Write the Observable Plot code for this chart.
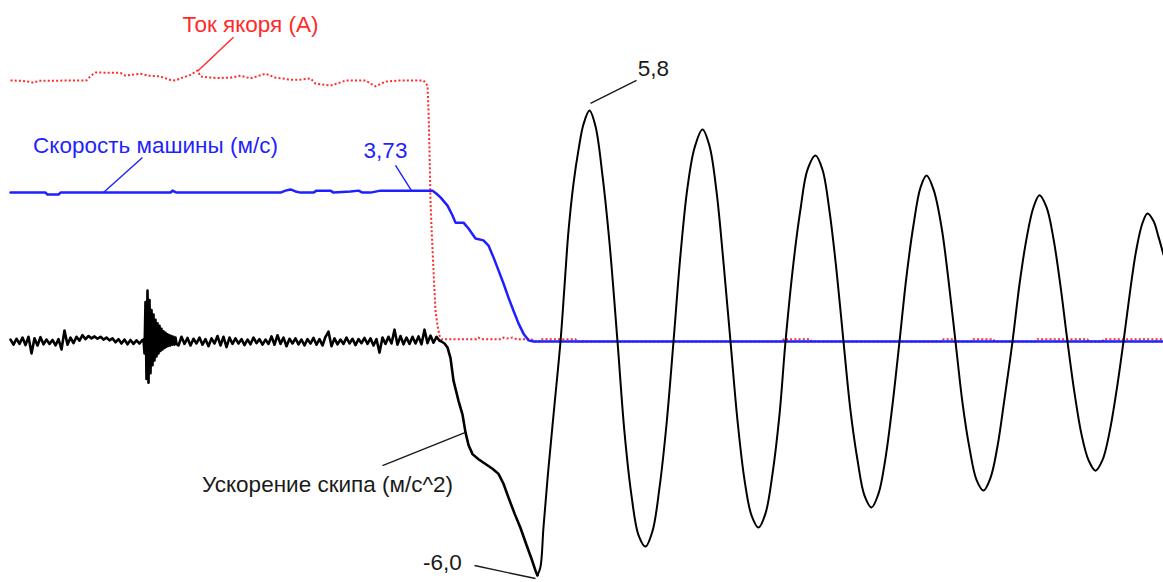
<!DOCTYPE html>
<html>
<head>
<meta charset="utf-8">
<script src="https://cdn.jsdelivr.net/npm/d3@7"></script>
<script src="https://cdn.jsdelivr.net/npm/@observablehq/plot@0.6"></script>
<style>
  html, body { margin: 0; padding: 0; background: #fff; }
  #chart svg { display: block; }
</style>
</head>
<body>
<div id="chart"></div>
<script>
// ---- Data (time in sample units, values in common oscillogram units) ----

// Armature current (A), trace
const currentTrace = [
  [10,6.61],[20,6.6],[30,6.57],[33,6.55],[38,6.6],[86,6.61],[90,6.72],[95,6.81],[120,6.8],
  [125,6.73],[130,6.75],[140,6.78],[148,6.73],[160,6.71],[170,6.62],[175,6.61],[182,6.68],
  [190,6.75],[197,6.86],[200,6.71],[215,6.67],[230,6.68],[240,6.73],[250,6.66],[265,6.78],
  [275,6.68],[290,6.63],[300,6.63],[310,6.66],[315,6.53],[330,6.48],[340,6.56],[345,6.61],
  [365,6.61],[370,6.53],[375,6.46],[385,6.58],[400,6.61],[423,6.61],[427,6.48],[428,5.85],
  [429,4.8],[430,3.57],[431,2.9],[433,1.8],[435,0.78],[437,0.4],[439,0.15],[441,0.06],
  [476,0.06],[478,0.1],[481,0.06],[501,0.06],[503,0.1],[507,0.08],[512,0.1],[516,0.06],
  [531,0.06],[533,0],[539,0],[540,0.06],[575,0.06],[576,0],[782,0],[783,0.06],[810,0.06],
  [811,0],[942,0],[943,0.06],[953,0.06],[954,0],[972,0],[973,0.06],[993,0.06],[994,0],
  [1036,0],[1037,0.06],[1087,0.06],[1088,0],[1102,0],[1103,0.06],[1163,0.06]
];

// Machine speed (m/s)
const speedTrace = [
  [10,3.77],[45,3.77],[47,3.72],[58,3.72],[60,3.77],[170,3.77],[172,3.82],[176,3.77],
  [280,3.77],[285,3.82],[290,3.85],[295,3.8],[300,3.77],[313,3.77],[316,3.82],[330,3.82],
  [333,3.77],[350,3.8],[358,3.82],[362,3.77],[370,3.77],[380,3.82],[432,3.82],[436,3.74],
  [440,3.65],[447,3.44],[452,3.19],[455,3.01],[463,3.01],[468,2.86],[475,2.61],[483,2.56],
  [488,2.43],[493,2.13],[498,1.8],[503,1.47],[508,1.11],[513,0.78],[518,0.46],[523,0.2],
  [528,0.03],[533,0],[1163,0]
];

// Skip acceleration (m/s^2): noise before braking, sampled every 3 units
const accelNoiseStartA = 10;
const accelNoiseA = [
  .05,-.08,.07,-.06,.1,-.09,.12,-.3,.08,-.1,.11,-.07,.05,-.06,.04,-.1,.06,-.2,.28,-.08,
  .1,-.04,.12,.02,.16,.06,.14,.08,.13,.07,.12,.05,.1,.03,.08,-.02,.06,-.05,.05,-.07,
  .04,-.06,.03,-.05,.04
];
// the jolt around t = 145
const accelBurst = [
  [143,.05],[144,-.3],[145,1.0],[146,-.95],[147,1.29],[148,-1.04],[149,1.05],[150,-.8],
  [151,.8],[152,-.6],[153,.68],[154,-.48],[155,.55],[156,-.38],[157,.46],[158,-.3],
  [159,.4],[160,-.24],[161,.32],[162,-.2],[163,.26],[164,-.16],[165,.22],[166,-.13],
  [167,.18],[168,-.11],[169,.16],[170,-.1],[171,.14],[172,-.08],[173,.12],[174,-.08],
  [175,.1],[176,-.06]
];
const accelNoiseStartB = 178;
const accelNoiseB = [
  -.1,.12,-.06,.09,-.1,.07,-.05,.1,-.08,.06,-.12,.08,-.05,.14,-.1,.12,-.14,.1,-.06,.08,
  -.05,.06,-.09,.05,-.07,.1,-.04,.06,-.08,.05,-.06,.13,-.08,.16,-.06,.1,-.12,.07,-.05,.08,
  -.07,.05,-.1,.06,-.05,.09,-.08,.06,-.1,.12,.25,-.12,.08,-.07,.05,-.06,.1,-.05,.07,-.09,
  .06,-.04,.09,-.06,.08,-.1,.06,-.28,.1,-.06,.12,-.05,.3,-.08,.14,-.07,.1,-.06,.12,-.05,
  .13,-.07,.3,-.04,.15,-.03,.12,.02
];
const accelNoiseStep = 3;

// braking transient down to the -6.0 minimum
const accelBraking = [
  [441,0],[444,-.05],[447,-.15],[450,-.42],[453,-.99],[458,-1.5],[462,-1.85],[465,-2.3],
  [468,-2.62],[472,-2.85],[478,-2.98],[485,-3.1],[492,-3.22],[498,-3.35],[503,-3.6],
  [508,-3.95],[514,-4.35],[520,-4.72],[526,-5.15],[531,-5.5],[535,-5.8],[537,-5.92]
];

// damped oscillation after the stop
const accelOscillation = [
  [537,-5.92],[540,-5.7],[543,-4.7],[548,-3.2],[554,-1.6],[560,0],[564,1.4],[568,2.8],
  [573,4.0],[578,4.85],[583,5.5],[589,5.85],
  [595,5.45],[602,4.2],[609,2.5],[617,0],[624,-2.3],[631,-3.9],[638,-4.9],[645,-5.19],
  [652,-4.8],[659,-3.7],[666,-2.1],[673,0],[680,2.2],[687,3.9],[694,4.9],[702,5.37],
  [709,4.95],[716,3.8],[723,2.0],[730,0],[737,-2.0],[744,-3.5],[751,-4.4],[758,-4.71],
  [765,-4.35],[772,-3.35],[779,-1.85],[785,0],[793,2.0],[800,3.35],[807,4.35],[815,4.71],
  [822,4.35],[829,3.3],[836,1.8],[843,0],[850,-1.75],[857,-3.0],[864,-3.9],[871,-4.2],
  [878,-3.85],[885,-2.95],[892,-1.6],[899,0],[906,1.65],[913,2.95],[920,3.9],[926,4.2],
  [933,3.85],[941,2.9],[948,1.55],[955,0],[962,-1.55],[969,-2.7],[976,-3.5],[983,-3.77],
  [990,-3.45],[997,-2.65],[1004,-1.45],[1012,0],[1019,1.45],[1026,2.6],[1033,3.4],[1039,3.7],
  [1046,3.4],[1053,2.6],[1060,1.4],[1067,0],[1074,-1.3],[1081,-2.35],[1088,-3.0],[1095,-3.27],
  [1102,-3.0],[1109,-2.3],[1116,-1.25],[1123,0],[1130,1.35],[1136,2.35],[1142,3.0],[1147,3.24],
  [1153,3.05],[1158,2.65],[1163,2.2]
];

// Annotations: label, label position, leader from -> to (data units)
const annotations = [
  {text: "Ток якоря (А)",          tx: 250, ty: 8.03,  x1: 233, y1: 7.70,  x2: 197, y2: 6.84, color: "#ff2a2a"},
  {text: "Скорость машины (м/с)",  tx: 155, ty: 4.95,  x1: 142, y1: 4.66,  x2: 103, y2: 3.77, color: "#1f1fff"},
  {text: "3,73",                   tx: 385, ty: 4.83,  x1: 395, y1: 4.46,  x2: 411, y2: 3.82, color: "#1f1fff"},
  {text: "5,8",                    tx: 653, ty: 6.91,  x1: 636, y1: 6.61,  x2: 590, y2: 6.03, color: "#1a1a1a"},
  {text: "Ускорение скипа (м/с^2)", tx: 327, ty: -3.62, x1: 382, y1: -3.14, x2: 465, y2: -2.30, color: "#1a1a1a"},
  {text: "-6,0",                   tx: 442, ty: -5.59, x1: 474, y1: -5.67, x2: 535, y2: -6.0, color: "#1a1a1a"}
];

// ---- Build tables ----
const toRows = arr => arr.map(([t, v]) => ({t, v}));
const accelPre = [
  ...accelNoiseA.map((v, i) => ({t: accelNoiseStartA + i * accelNoiseStep, v})),
  ...toRows(accelBurst),
  ...accelNoiseB.map((v, i) => ({t: accelNoiseStartB + i * accelNoiseStep, v})),
  ...toRows(accelBraking)
];

const chart = Plot.plot({
  width: 1163,
  height: 582,
  margin: 0,
  style: {background: "#fff", fontFamily: "'Liberation Sans', Arial, sans-serif"},
  x: {domain: [0, 1163], axis: null},
  y: {domain: [-6.1, 8.633], axis: null},
  marks: [
    Plot.line(toRows(currentTrace), {x: "t", y: "v", stroke: "#ff2a2a", strokeWidth: 2, strokeDasharray: "2,2.2", strokeLinecap: "butt"}),
    Plot.line(toRows(speedTrace), {x: "t", y: "v", stroke: "#1f1fff", strokeWidth: 2.5}),
    Plot.line(accelPre, {x: "t", y: "v", stroke: "#000", strokeWidth: 2.6}),
    Plot.line(toRows(accelOscillation), {x: "t", y: "v", stroke: "#000", strokeWidth: 2, curve: "catmull-rom"}),
    Plot.link(annotations, {x1: "x1", y1: "y1", x2: "x2", y2: "y2", stroke: "color", strokeWidth: 1.4}),
    Plot.text(annotations, {x: "tx", y: "ty", text: "text", fill: "color", fontSize: 22.5, textAnchor: "middle", lineAnchor: "middle"})
  ]
});
document.getElementById("chart").appendChild(chart);
</script>
</body>
</html>
